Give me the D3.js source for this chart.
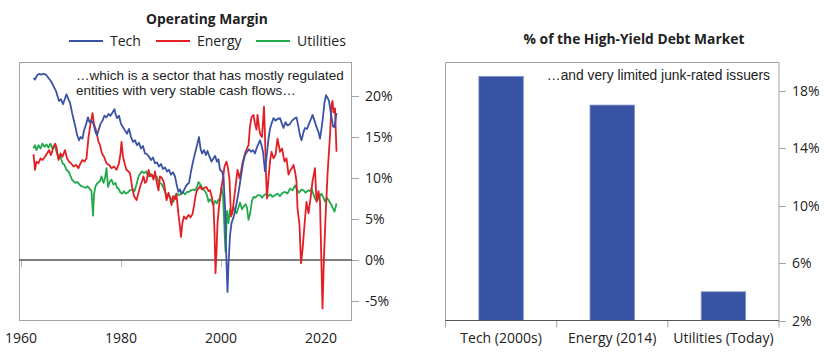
<!DOCTYPE html>
<html><head><meta charset="utf-8">
<script src="https://cdn.jsdelivr.net/npm/d3@7"></script>
<style>
html,body{margin:0;padding:0;background:#fff;}
svg text{font-family:"Open Sans",Lato,sans-serif;fill:#222;}
svg text.note{font-family:"Liberation Sans",Arial,sans-serif;}
</style></head>
<body><svg id="c" width="840" height="357"></svg>
<script>
// ---- Left panel: operating margin (%) ----
const techSeries = [[1962.5,22.2],[1962.8,22.0],[1963.2,22.5],[1963.6,22.7],[1964.0,22.6],[1964.5,22.7],[1965.0,22.6],[1965.5,22.2],[1966.0,21.8],[1966.5,21.2],[1967.0,20.6],[1967.3,20.0],[1967.6,19.4],[1968.0,19.6],[1968.4,19.0],[1968.8,19.7],[1969.1,20.2],[1969.5,19.6],[1969.8,19.2],[1970.2,18.0],[1970.5,17.2],[1970.9,16.2],[1971.2,15.3],[1971.6,14.6],[1971.9,15.0],[1972.3,14.8],[1972.6,15.8],[1973.0,16.5],[1973.4,17.4],[1973.7,16.8],[1974.1,17.0],[1974.5,16.6],[1974.9,15.6],[1975.2,15.2],[1975.6,16.0],[1975.9,16.6],[1976.3,17.0],[1976.7,17.6],[1977.1,17.4],[1977.5,17.8],[1977.9,17.6],[1978.3,18.0],[1978.7,18.4],[1978.9,17.8],[1979.2,17.3],[1979.6,17.6],[1980.0,16.6],[1980.4,16.2],[1980.8,15.8],[1981.2,15.4],[1981.6,16.0],[1982.0,15.0],[1982.4,14.4],[1982.8,14.6],[1983.2,14.0],[1983.6,14.3],[1984.0,13.6],[1984.4,13.9],[1984.8,13.0],[1985.2,12.9],[1985.6,12.6],[1986.0,12.2],[1986.4,12.5],[1986.8,11.8],[1987.2,11.9],[1987.6,11.4],[1988.0,11.7],[1988.4,11.1],[1988.8,11.3],[1989.2,10.8],[1989.6,11.0],[1990.0,10.4],[1990.4,10.7],[1990.8,10.2],[1991.2,9.0],[1991.5,8.3],[1991.8,8.6],[1992.1,8.1],[1992.5,8.4],[1992.9,8.9],[1993.2,9.2],[1993.6,9.4],[1994.0,10.8],[1994.4,12.0],[1994.8,13.0],[1995.2,14.0],[1995.6,15.0],[1995.9,13.6],[1996.2,13.0],[1996.6,13.4],[1997.0,12.8],[1997.3,13.3],[1997.7,12.6],[1998.1,12.0],[1998.5,12.4],[1998.8,12.7],[1999.2,12.0],[1999.5,12.3],[1999.8,11.0],[2000.2,10.8],[2000.5,10.2],[2000.8,6.5],[2001.0,1.5],[2001.3,-3.9],[2001.5,-0.5],[2001.8,3.0],[2002.1,4.5],[2002.5,5.2],[2002.8,5.9],[2003.2,7.2],[2003.6,8.6],[2004.0,10.2],[2004.4,11.8],[2004.8,12.8],[2005.2,13.2],[2005.6,13.5],[2006.0,13.2],[2006.4,13.4],[2006.8,13.0],[2007.1,13.6],[2007.5,14.2],[2007.8,14.6],[2008.1,14.0],[2008.4,13.2],[2008.8,10.8],[2009.1,12.5],[2009.5,14.8],[2009.8,16.0],[2010.2,16.8],[2010.5,17.3],[2010.9,17.0],[2011.3,17.2],[2011.8,17.3],[2012.2,16.6],[2012.5,16.1],[2012.9,16.8],[2013.3,16.4],[2013.8,16.6],[2014.2,17.0],[2014.6,17.2],[2015.1,17.4],[2015.5,16.2],[2015.8,15.2],[2016.1,14.6],[2016.5,15.6],[2016.8,16.1],[2017.2,16.0],[2017.6,16.6],[2018.0,17.2],[2018.3,17.7],[2018.7,17.0],[2019.1,16.2],[2019.5,15.6],[2019.8,14.8],[2020.1,16.0],[2020.4,17.5],[2020.7,19.2],[2021.0,20.1],[2021.3,19.8],[2021.6,19.4],[2022.0,17.8],[2022.4,16.3],[2022.7,16.2],[2023.1,17.9]];

const energySeries = [[1962.5,12.9],[1962.8,11.0],[1963.1,12.0],[1963.5,11.8],[1963.9,12.4],[1964.3,12.2],[1964.8,12.6],[1965.2,13.0],[1965.6,13.4],[1966.0,12.8],[1966.4,13.6],[1966.8,14.2],[1967.1,13.8],[1967.5,12.2],[1967.9,13.0],[1968.3,12.6],[1968.8,13.4],[1969.2,12.4],[1969.6,12.0],[1970.0,11.8],[1970.5,11.4],[1971.0,11.6],[1971.5,11.2],[1971.9,11.8],[1972.3,12.2],[1972.7,12.0],[1973.1,12.4],[1973.5,15.0],[1973.9,16.6],[1974.3,17.9],[1974.6,16.6],[1975.1,15.6],[1975.5,14.4],[1975.8,14.0],[1976.2,13.0],[1976.6,12.6],[1977.1,11.8],[1977.6,11.6],[1978.1,11.2],[1978.6,11.4],[1979.1,11.0],[1979.6,11.8],[1979.9,13.0],[1980.1,14.4],[1980.4,12.6],[1980.8,11.6],[1981.1,11.0],[1981.5,10.8],[1981.8,10.6],[1982.2,9.0],[1982.6,7.8],[1983.1,7.3],[1983.5,8.2],[1983.8,8.9],[1984.2,9.6],[1984.5,10.2],[1984.8,9.4],[1985.1,9.6],[1985.5,11.0],[1985.8,10.2],[1986.2,10.4],[1986.5,9.8],[1986.8,10.8],[1987.1,9.6],[1987.5,8.5],[1987.8,10.2],[1988.2,10.0],[1988.6,9.4],[1989.1,7.3],[1989.5,8.2],[1989.8,7.6],[1990.1,6.7],[1990.4,7.8],[1990.8,7.4],[1991.1,8.0],[1991.5,5.5],[1991.8,4.0],[1992.0,2.8],[1992.3,4.6],[1992.6,5.3],[1993.0,5.0],[1993.5,5.5],[1993.9,5.2],[1994.3,5.6],[1994.6,6.6],[1994.9,7.8],[1995.2,8.5],[1995.5,8.7],[1995.8,9.0],[1996.2,8.6],[1996.6,8.8],[1997.1,8.9],[1997.5,8.4],[1997.8,8.5],[1998.2,7.6],[1998.5,6.5],[1998.7,3.5],[1998.9,-1.6],[1999.1,1.0],[1999.3,4.5],[1999.6,6.5],[2000.0,8.5],[2000.4,10.0],[2000.7,11.4],[2001.1,12.0],[2001.4,11.2],[2001.7,9.8],[2002.0,5.3],[2002.3,5.8],[2002.6,7.4],[2002.9,8.9],[2003.3,11.0],[2003.7,10.0],[2004.0,10.8],[2004.3,11.8],[2004.8,13.0],[2005.2,13.6],[2005.5,14.0],[2005.8,16.3],[2006.1,17.4],[2006.5,17.7],[2006.8,16.6],[2007.1,15.9],[2007.3,17.7],[2007.6,16.2],[2007.8,15.4],[2008.2,15.0],[2008.6,18.7],[2008.8,15.0],[2009.0,10.5],[2009.2,7.5],[2009.5,10.0],[2009.8,12.0],[2010.1,13.2],[2010.5,12.4],[2010.9,12.8],[2011.3,14.8],[2011.8,13.2],[2012.2,13.6],[2012.7,12.0],[2013.1,12.4],[2013.5,10.4],[2013.9,11.0],[2014.2,11.2],[2014.5,11.6],[2014.8,10.8],[2015.1,9.6],[2015.3,6.3],[2015.7,4.3],[2016.0,-0.4],[2016.3,1.2],[2016.7,4.3],[2017.1,7.1],[2017.5,5.7],[2017.9,7.5],[2018.3,9.6],[2018.8,11.2],[2019.1,7.1],[2019.5,8.4],[2019.8,7.2],[2020.0,1.8],[2020.3,-5.9],[2020.6,0.5],[2020.9,5.1],[2021.3,10.4],[2021.8,15.2],[2022.1,18.9],[2022.3,19.4],[2022.5,18.0],[2022.8,18.5],[2023.1,13.2]];

const utilitiesSeries = [[1962.5,13.6],[1962.8,14.0],[1963.1,13.4],[1963.5,14.0],[1963.9,13.6],[1964.3,14.2],[1964.7,13.8],[1965.1,14.1],[1965.5,13.7],[1965.9,14.2],[1966.3,13.6],[1966.7,14.0],[1967.1,13.2],[1967.5,12.4],[1967.9,12.6],[1968.3,11.8],[1968.7,11.6],[1969.1,11.0],[1969.5,10.8],[1969.8,10.4],[1970.2,9.8],[1970.5,9.6],[1970.9,9.4],[1971.3,9.5],[1971.7,9.2],[1972.1,9.0],[1972.5,8.9],[1972.9,8.8],[1973.3,9.0],[1973.7,8.7],[1974.1,8.4],[1974.4,5.4],[1974.6,8.0],[1974.9,9.0],[1975.3,9.4],[1975.8,9.6],[1976.1,10.2],[1976.5,9.4],[1976.8,10.0],[1977.1,11.2],[1977.4,8.9],[1977.8,9.6],[1978.1,9.8],[1978.5,9.2],[1978.9,9.4],[1979.2,8.8],[1979.5,8.7],[1979.9,8.2],[1980.2,8.1],[1980.6,8.4],[1980.9,8.1],[1981.3,8.2],[1981.8,8.5],[1982.2,8.6],[1982.7,8.4],[1983.1,9.2],[1983.5,10.2],[1983.9,10.6],[1984.2,10.8],[1984.6,10.6],[1985.0,10.8],[1985.5,10.2],[1985.9,10.5],[1986.3,10.2],[1986.8,10.3],[1987.2,10.1],[1987.6,9.4],[1988.1,9.3],[1988.5,8.8],[1988.8,8.3],[1989.2,7.7],[1989.5,8.0],[1989.8,7.6],[1990.1,7.4],[1990.5,7.1],[1990.8,7.8],[1991.1,8.1],[1991.6,7.9],[1992.1,8.1],[1992.5,8.2],[1992.8,8.0],[1993.2,8.3],[1993.6,8.3],[1994.0,8.5],[1994.4,8.6],[1994.8,8.5],[1995.2,8.9],[1995.5,9.5],[1995.9,9.2],[1996.3,8.7],[1996.8,8.4],[1997.2,7.9],[1997.5,7.1],[1997.8,7.4],[1998.1,7.2],[1998.5,6.7],[1998.8,7.2],[1999.2,6.9],[1999.5,7.4],[1999.8,7.3],[2000.1,8.9],[2000.4,8.0],[2000.7,3.7],[2000.9,1.0],[2001.2,6.0],[2001.5,4.5],[2001.8,6.2],[2002.1,5.6],[2002.5,6.5],[2002.8,6.0],[2003.1,5.7],[2003.5,6.4],[2003.8,7.0],[2004.2,6.2],[2004.5,6.5],[2004.9,6.8],[2005.2,6.4],[2005.5,4.9],[2005.8,5.6],[2006.2,7.2],[2006.5,7.7],[2006.9,7.6],[2007.3,7.9],[2007.8,7.9],[2008.2,7.6],[2008.6,7.9],[2009.1,8.1],[2009.5,7.8],[2009.9,8.0],[2010.3,7.7],[2010.8,7.9],[2011.3,8.1],[2011.8,7.8],[2012.3,8.2],[2012.8,8.3],[2013.3,8.1],[2013.8,8.7],[2014.3,8.5],[2014.8,9.1],[2015.2,8.6],[2015.6,8.2],[2016.1,8.6],[2016.5,8.5],[2016.9,8.2],[2017.4,8.5],[2017.8,8.4],[2018.1,8.7],[2018.5,8.0],[2018.8,7.5],[2019.2,7.2],[2019.6,7.6],[2020.1,8.1],[2020.5,7.6],[2020.8,7.1],[2021.2,7.6],[2021.6,7.2],[2022.1,6.7],[2022.4,6.3],[2022.7,5.9],[2023.1,6.9]];

const seriesNames = ["Tech","Energy","Utilities"];
const seriesColors = ["#3a53a4","#e31f26","#21a94a"];
const yearTicks = [1960,1980,2000,2020];
const marginTicks = [-5,0,5,10,15,20];
const leftTitle = "Operating Margin";
const leftNote = ["…which is a sector that has mostly regulated","entities with very stable cash flows…"];

// ---- Right panel: share of high-yield market (%) ----
const hyCategories = ["Tech (2000s)","Energy (2014)","Utilities (Today)"];
const hyValues = [19,17,4];
const hyTicks = [2,6,10,14,18];
const rightTitle = "% of the High-Yield Debt Market";
const rightNote = "…and very limited junk-rated issuers";

const svg = d3.select("#c");
const boxStroke = "#a3a3a3", axisDark = "#555";

// ===== LEFT =====
const L = {x0:19, x1:352, y0:62, y1:320};
const x = d3.scaleLinear().domain([1959.6,2026.2]).range([L.x0,L.x1]);
const y = d3.scaleLinear().domain([-7.32,24.15]).range([L.y1,L.y0]);

svg.append("text").attr("x",207).attr("y",24).attr("text-anchor","middle")
  .attr("font-size",13.8).attr("font-weight",700).text(leftTitle);

// legend
const legX = [69,156,256];
seriesNames.forEach((n,i)=>{
  svg.append("line").attr("x1",legX[i]).attr("x2",legX[i]+34).attr("y1",41).attr("y2",41)
    .attr("stroke",seriesColors[i]).attr("stroke-width",2);
  svg.append("text").attr("x",legX[i]+41).attr("y",46).attr("font-size",14).text(n);
});

svg.append("rect").attr("x",L.x0+0.5).attr("y",L.y0+0.5).attr("width",L.x1-L.x0-1).attr("height",L.y1-L.y0)
  .attr("fill","none").attr("stroke",boxStroke);

// x ticks at zero line
const gx = svg.append("g");
gx.selectAll("line").data(yearTicks).join("line")
  .attr("x1",d=>x(d)+0.5).attr("x2",d=>x(d)+0.5).attr("y1",y(0)).attr("y2",y(0)+7).attr("stroke","#b5b5b5");
gx.selectAll("text").data(yearTicks).join("text")
  .attr("x",d=>x(d)).attr("y",343).attr("text-anchor","middle").attr("font-size",14).text(d=>d);

// y ticks right
const gy = svg.append("g");
gy.selectAll("line").data(marginTicks).join("line")
  .attr("x1",L.x1).attr("x2",L.x1+7).attr("y1",d=>Math.round(y(d))+0.5).attr("y2",d=>Math.round(y(d))+0.5).attr("stroke","#a3a3a3");
gy.selectAll("text").data(marginTicks).join("text")
  .attr("x",L.x1+13).attr("y",d=>y(d)+5).attr("font-size",14).text(d=>d+"%");

// zero line
svg.append("line").attr("x1",L.x0).attr("x2",L.x1).attr("y1",y(0)).attr("y2",y(0))
  .attr("stroke",axisDark).attr("stroke-width",1.6);

const line = d3.line().x(d=>x(d[0])).y(d=>y(d[1]));
[utilitiesSeries, energySeries, techSeries].forEach((s,k)=>{
  const i = [2,1,0][k];
  svg.append("path").datum(s).attr("d",line).attr("fill","none")
    .attr("stroke",seriesColors[i]).attr("stroke-width",1.8).attr("stroke-linejoin","round");
});

leftNote.forEach((t,i)=>{
  svg.append("text").attr("class","note").attr("x",76).attr("y",80+i*15.4).attr("font-size",13.5).text(t);
});

// ===== RIGHT =====
const R = {x0:445.5, x1:779, y0:62, y1:320.5};
const xb = d3.scaleBand().domain(hyCategories).range([R.x0,R.x1]).paddingInner(0.6).paddingOuter(0.3);
const yb = d3.scaleLinear().domain([2,20]).range([R.y1,R.y0]);

svg.append("text").attr("x",634).attr("y",44).attr("text-anchor","middle")
  .attr("font-size",13.8).attr("font-weight",700).text(rightTitle);

// box: top, left, right (extending below axis)
svg.append("path").attr("d",`M${R.x0},${R.y1+7}V${R.y0+0.5}H${R.x1}V${R.y1+7}`)
  .attr("fill","none").attr("stroke",boxStroke);

svg.append("g").selectAll("rect").data(hyCategories).join("rect")
  .attr("x",d=>xb(d)).attr("width",xb.bandwidth())
  .attr("y",(d,i)=>yb(hyValues[i])).attr("height",(d,i)=>yb(2)-yb(hyValues[i]))
  .attr("fill","#3953a4").attr("stroke","#7f93cc").attr("stroke-width",0.8);

// category boundaries ticks
const bounds = hyCategories.slice(1).map(c=>xb(c)-xb.step()*xb.paddingInner()/2);
svg.append("g").selectAll("line").data(bounds).join("line")
  .attr("x1",d=>d).attr("x2",d=>d).attr("y1",R.y1).attr("y2",R.y1+7).attr("stroke","#a3a3a3");

svg.append("line").attr("x1",R.x0).attr("x2",R.x1).attr("y1",R.y1).attr("y2",R.y1)
  .attr("stroke",axisDark).attr("stroke-width",1.2);

svg.append("g").selectAll("text").data(hyCategories).join("text")
  .attr("x",d=>xb(d)+xb.bandwidth()/2).attr("y",343).attr("text-anchor","middle").attr("font-size",14).text(d=>d);

const gyr = svg.append("g");
gyr.selectAll("line").data(hyTicks).join("line")
  .attr("x1",R.x1).attr("x2",R.x1+7).attr("y1",d=>Math.round(yb(d))+0.5).attr("y2",d=>Math.round(yb(d))+0.5).attr("stroke","#a3a3a3");
gyr.selectAll("text").data(hyTicks).join("text")
  .attr("x",R.x1+13).attr("y",d=>yb(d)+5).attr("font-size",14).text(d=>d+"%");

svg.append("text").attr("class","note").attr("x",770).attr("y",80).attr("text-anchor","end").attr("font-size",13.8).text(rightNote);
</script></body></html>
